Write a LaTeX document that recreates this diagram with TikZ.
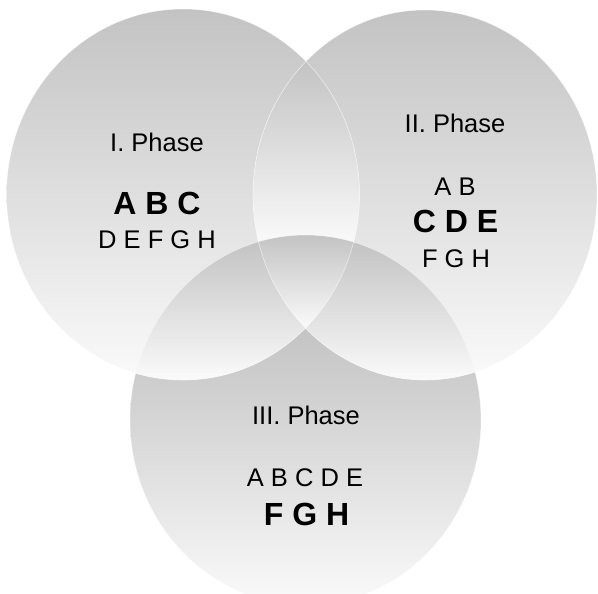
\documentclass[tikz,border=0pt]{standalone}
\usepackage{fontspec}
\setmainfont{Liberation Sans}
\definecolor{ctop}{RGB}{195,195,195}
\definecolor{cbot}{RGB}{250,250,250}
\tikzset{
  grad/.style={top color=ctop, bottom color=cbot, draw=none},
  rim/.style={draw=white, draw opacity=0.55, line width=0.6pt},
  lbl/.style={anchor=base, inner sep=0pt, text=black, font=\fontsize{25.5}{30}\selectfont},
  big/.style={anchor=base, inner sep=0pt, text=black, font=\fontsize{32}{36}\selectfont\bfseries}
}
\def\cA{(183,194.5) ellipse [x radius=176.5pt, y radius=185.5pt]}
\def\cB{(425,195) ellipse [x radius=172pt, y radius=185pt]}
\def\cC{(305.5,420) ellipse [x radius=175.5pt, y radius=185pt]}
\begin{document}
\begin{tikzpicture}[x=1pt, y=-1pt]
\useasboundingbox (0,0) rectangle (598,594);
\clip (0,0) rectangle (598,594);
% circle 1 alone
\begin{scope}
  \clip \cA;
  \shade[grad] (0,9) rectangle (598,379);
\end{scope}
% circle 2 alone
\begin{scope}
  \clip \cB;
  \shade[grad] (0,10) rectangle (598,380);
\end{scope}
% circle 3 alone
\begin{scope}
  \clip \cC;
  \fill[ctop] (0,230) rectangle (598,330);
  \shade[grad] (0,327) rectangle (598,605);
\end{scope}
% lens 1-2
\begin{scope}
  \clip \cA; \clip \cB;
  \fill[cbot] (0,0) rectangle (598,594);
  \shade[grad] (0,61) rectangle (598,244);
\end{scope}
% lens 1-3
\begin{scope}
  \clip \cA; \clip \cC;
  \fill[cbot] (0,0) rectangle (598,594);
  \shade[grad] (0,241) rectangle (598,379);
\end{scope}
% lens 2-3
\begin{scope}
  \clip \cB; \clip \cC;
  \fill[cbot] (0,0) rectangle (598,594);
  \shade[grad] (0,242) rectangle (598,380);
\end{scope}
% triple
\begin{scope}
  \clip \cA; \clip \cB; \clip \cC;
  \shade[grad] (0,235) rectangle (598,328);
\end{scope}
% faint rims
\path[rim] \cA;
\path[rim] \cB;
\path[rim] \cC;
% circle 1 texts
\node[lbl] (t1) at (157,152) {I. Phase};
\node[big] (b1) at (157,214) {A B C};
\node[lbl] (s1) at (157,248) {D E F G H};
% circle 2 texts
\node[lbl] (t2) at (455,133) {II. Phase};
\node[lbl] (a2) at (455,195) {A B};
\node[big] (b2) at (455.5,233) {C D E};
\node[lbl] (s2) at (456,267) {F G H};
% circle 3 texts
\node[lbl] (t3) at (306,424) {III. Phase};
\node[lbl] (a3) at (305,486) {A B C D E};
\node[big] (b3) at (306.5,525) {F G H};
\end{tikzpicture}
\end{document}
